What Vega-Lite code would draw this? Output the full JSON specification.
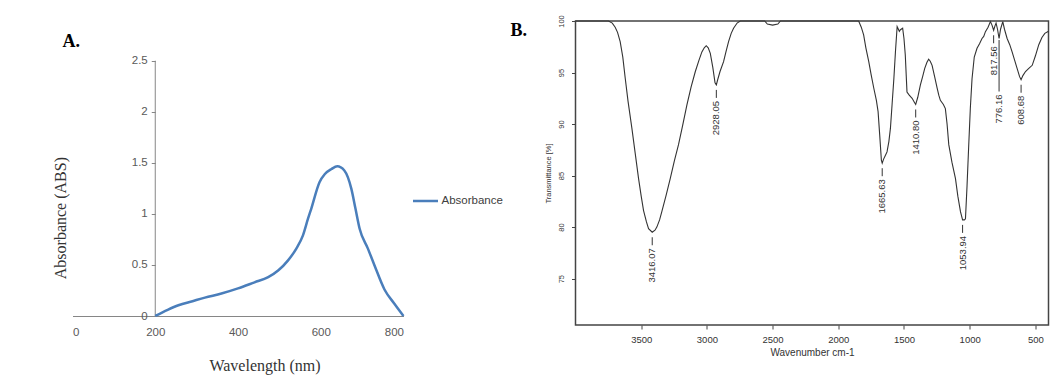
{
  "$schema": "https://vega.github.io/schema/vega-lite/v6.json",
  "padding": {"left": 51.5, "top": 13, "right": 4, "bottom": 4},
  "spacing": 172,
  "bounds": "flush",
  "background": "white",
  "config": {"view": {"stroke": null}, "font": "Liberation Sans"},
  "hconcat": [
    {
      "width": 331,
      "height": 295,
      "title": {"text": "A.", "anchor": "start", "frame": "group", "font": "Liberation Serif", "fontSize": 18, "fontWeight": "bold", "color": "#000000", "dx": -10, "dy": 29, "baseline": "alphabetic", "offset": -15},
      "layer": [
        {
          "data": {"values": [{}]},
          "mark": {"type": "rule", "color": "#868686", "strokeWidth": 1},
          "encoding": {
            "x": {"datum": 200, "type": "quantitative", "scale": {"domain": [0, 800], "nice": false, "zero": false}},
            "y": {"datum": 0, "type": "quantitative", "scale": {"domain": [0, 2.889], "nice": false}},
            "y2": {"datum": 2.5}
          }
        },
        {
          "data": {"values": [
            {"wavelength": 200, "absorbance": 0, "series": "Absorbance"},
            {"wavelength": 230, "absorbance": 0.06, "series": "Absorbance"},
            {"wavelength": 256, "absorbance": 0.105, "series": "Absorbance"},
            {"wavelength": 290, "absorbance": 0.145, "series": "Absorbance"},
            {"wavelength": 320, "absorbance": 0.18, "series": "Absorbance"},
            {"wavelength": 360, "absorbance": 0.22, "series": "Absorbance"},
            {"wavelength": 400, "absorbance": 0.27, "series": "Absorbance"},
            {"wavelength": 440, "absorbance": 0.33, "series": "Absorbance"},
            {"wavelength": 473, "absorbance": 0.38, "series": "Absorbance"},
            {"wavelength": 497, "absorbance": 0.445, "series": "Absorbance"},
            {"wavelength": 521, "absorbance": 0.545, "series": "Absorbance"},
            {"wavelength": 541, "absorbance": 0.66, "series": "Absorbance"},
            {"wavelength": 557, "absorbance": 0.79, "series": "Absorbance"},
            {"wavelength": 569, "absorbance": 0.95, "series": "Absorbance"},
            {"wavelength": 577, "absorbance": 1.05, "series": "Absorbance"},
            {"wavelength": 597, "absorbance": 1.31, "series": "Absorbance"},
            {"wavelength": 610, "absorbance": 1.39, "series": "Absorbance"},
            {"wavelength": 626, "absorbance": 1.44, "series": "Absorbance"},
            {"wavelength": 640, "absorbance": 1.466, "series": "Absorbance"},
            {"wavelength": 657, "absorbance": 1.425, "series": "Absorbance"},
            {"wavelength": 674, "absorbance": 1.245, "series": "Absorbance"},
            {"wavelength": 684, "absorbance": 1.05, "series": "Absorbance"},
            {"wavelength": 694, "absorbance": 0.855, "series": "Absorbance"},
            {"wavelength": 714, "absorbance": 0.66, "series": "Absorbance"},
            {"wavelength": 730, "absorbance": 0.495, "series": "Absorbance"},
            {"wavelength": 754, "absorbance": 0.26, "series": "Absorbance"},
            {"wavelength": 778, "absorbance": 0.12, "series": "Absorbance"},
            {"wavelength": 800, "absorbance": 0, "series": "Absorbance"}
          ]},
          "mark": {"type": "line", "interpolate": "monotone", "strokeWidth": 2.5},
          "encoding": {
            "x": {
              "field": "wavelength", "type": "quantitative",
              "axis": {"values": [0, 200, 400, 600, 800], "title": "Wavelength (nm)", "grid": false, "domainColor": "#868686", "ticks": false, "labelPadding": 10, "labelColor": "#595959", "labelFontSize": 11.5, "labelFont": "Liberation Sans", "titleFont": "Liberation Serif", "titleFontSize": 16, "titleFontWeight": "normal", "titleColor": "#333333", "titleX": 192, "titleY": 49, "titleBaseline": "middle"}
            },
            "y": {
              "field": "absorbance", "type": "quantitative",
              "axis": {"values": [0, 0.5, 1, 1.5, 2, 2.5], "format": "~g", "offset": -82.75, "domain": false, "grid": false, "tickSize": 4, "tickColor": "#868686", "labelPadding": 4, "labelColor": "#595959", "labelFontSize": 11.5, "labelFont": "Liberation Sans", "title": "Absorbance (ABS)", "titleFont": "Liberation Serif", "titleFontSize": 16, "titleFontWeight": "normal", "titleColor": "#333333", "titleX": -94.75, "titleY": 196.6, "titleBaseline": "middle"}
            },
            "color": {
              "field": "series", "type": "nominal",
              "scale": {"range": ["#4A7EBB"]},
              "legend": {"title": null, "orient": "none", "legendX": 339, "legendY": 166, "symbolType": "stroke", "symbolSize": 625, "symbolStrokeWidth": 2.5, "labelFontSize": 11.5, "labelColor": "#404040", "labelOffset": 2, "padding": 0, "symbolOffset": 0}
            }
          }
        }
      ]
    },
    {
      "width": 473,
      "height": 304,
      "view": {"stroke": "#444444", "strokeWidth": 1.5},
      "title": {"text": "B.", "anchor": "start", "frame": "group", "font": "Liberation Serif", "fontSize": 18, "fontWeight": "bold", "color": "#000000", "dx": -65, "dy": 19, "baseline": "alphabetic", "offset": -20},
      "layer": [
        {
          "data": {"values": [
            {"wavenumber": 4000, "transmittance": 100},
            {"wavenumber": 3800, "transmittance": 100},
            {"wavenumber": 3749, "transmittance": 100},
            {"wavenumber": 3720, "transmittance": 99.8},
            {"wavenumber": 3698, "transmittance": 99.4},
            {"wavenumber": 3680, "transmittance": 98.9},
            {"wavenumber": 3660, "transmittance": 98.0},
            {"wavenumber": 3640, "transmittance": 96.5},
            {"wavenumber": 3621, "transmittance": 94.4},
            {"wavenumber": 3600, "transmittance": 92.2},
            {"wavenumber": 3571, "transmittance": 89.6},
            {"wavenumber": 3545, "transmittance": 87.1},
            {"wavenumber": 3520, "transmittance": 84.7},
            {"wavenumber": 3500, "transmittance": 83.0},
            {"wavenumber": 3482, "transmittance": 81.6},
            {"wavenumber": 3460, "transmittance": 80.5},
            {"wavenumber": 3444, "transmittance": 79.85},
            {"wavenumber": 3416.07, "transmittance": 79.5},
            {"wavenumber": 3395, "transmittance": 79.7},
            {"wavenumber": 3381, "transmittance": 80.0},
            {"wavenumber": 3360, "transmittance": 80.7},
            {"wavenumber": 3343, "transmittance": 81.5},
            {"wavenumber": 3310, "transmittance": 83.1},
            {"wavenumber": 3279, "transmittance": 84.7},
            {"wavenumber": 3248, "transmittance": 86.4},
            {"wavenumber": 3216, "transmittance": 88.0},
            {"wavenumber": 3184, "transmittance": 89.9},
            {"wavenumber": 3152, "transmittance": 91.85},
            {"wavenumber": 3120, "transmittance": 93.6},
            {"wavenumber": 3088, "transmittance": 95.1},
            {"wavenumber": 3060, "transmittance": 96.2},
            {"wavenumber": 3038, "transmittance": 97.0},
            {"wavenumber": 3020, "transmittance": 97.4},
            {"wavenumber": 3005, "transmittance": 97.6},
            {"wavenumber": 2990, "transmittance": 97.4},
            {"wavenumber": 2974, "transmittance": 96.86},
            {"wavenumber": 2955, "transmittance": 95.5},
            {"wavenumber": 2938, "transmittance": 94.0},
            {"wavenumber": 2928.05, "transmittance": 93.8},
            {"wavenumber": 2918, "transmittance": 94.3},
            {"wavenumber": 2900, "transmittance": 95.1},
            {"wavenumber": 2873, "transmittance": 96.05},
            {"wavenumber": 2855, "transmittance": 97.0},
            {"wavenumber": 2835, "transmittance": 98.0},
            {"wavenumber": 2815, "transmittance": 98.8},
            {"wavenumber": 2797, "transmittance": 99.3},
            {"wavenumber": 2770, "transmittance": 99.8},
            {"wavenumber": 2746, "transmittance": 100},
            {"wavenumber": 2560, "transmittance": 100},
            {"wavenumber": 2540, "transmittance": 99.7},
            {"wavenumber": 2500, "transmittance": 99.6},
            {"wavenumber": 2460, "transmittance": 99.7},
            {"wavenumber": 2440, "transmittance": 100},
            {"wavenumber": 1845, "transmittance": 100},
            {"wavenumber": 1825, "transmittance": 99.4},
            {"wavenumber": 1807, "transmittance": 98.65},
            {"wavenumber": 1790, "transmittance": 97.4},
            {"wavenumber": 1768, "transmittance": 96.05},
            {"wavenumber": 1750, "transmittance": 94.8},
            {"wavenumber": 1730, "transmittance": 93.5},
            {"wavenumber": 1710, "transmittance": 92.3},
            {"wavenumber": 1697, "transmittance": 91.2},
            {"wavenumber": 1685, "transmittance": 89.0},
            {"wavenumber": 1672, "transmittance": 86.5},
            {"wavenumber": 1665.63, "transmittance": 86.2},
            {"wavenumber": 1655, "transmittance": 86.6},
            {"wavenumber": 1640, "transmittance": 87.0},
            {"wavenumber": 1629, "transmittance": 87.3},
            {"wavenumber": 1615, "transmittance": 88.3},
            {"wavenumber": 1603, "transmittance": 89.6},
            {"wavenumber": 1590, "transmittance": 92.0},
            {"wavenumber": 1577, "transmittance": 94.4},
            {"wavenumber": 1565, "transmittance": 97.0},
            {"wavenumber": 1552, "transmittance": 99.45},
            {"wavenumber": 1535, "transmittance": 99.0},
            {"wavenumber": 1527, "transmittance": 99.15},
            {"wavenumber": 1510, "transmittance": 99.3},
            {"wavenumber": 1500, "transmittance": 98.3},
            {"wavenumber": 1490, "transmittance": 96.7},
            {"wavenumber": 1477, "transmittance": 93.1},
            {"wavenumber": 1460, "transmittance": 92.8},
            {"wavenumber": 1438, "transmittance": 92.5},
            {"wavenumber": 1420, "transmittance": 92.1},
            {"wavenumber": 1410.8, "transmittance": 91.9},
            {"wavenumber": 1395, "transmittance": 92.6},
            {"wavenumber": 1375, "transmittance": 93.8},
            {"wavenumber": 1358, "transmittance": 94.6},
            {"wavenumber": 1342, "transmittance": 95.4},
            {"wavenumber": 1325, "transmittance": 96.0},
            {"wavenumber": 1312, "transmittance": 96.3},
            {"wavenumber": 1300, "transmittance": 96.1},
            {"wavenumber": 1286, "transmittance": 95.7},
            {"wavenumber": 1265, "transmittance": 94.5},
            {"wavenumber": 1248, "transmittance": 93.5},
            {"wavenumber": 1235, "transmittance": 92.8},
            {"wavenumber": 1223, "transmittance": 92.3},
            {"wavenumber": 1200, "transmittance": 91.9},
            {"wavenumber": 1185, "transmittance": 91.5},
            {"wavenumber": 1172, "transmittance": 90.0},
            {"wavenumber": 1159, "transmittance": 88.0},
            {"wavenumber": 1135, "transmittance": 86.3},
            {"wavenumber": 1108, "transmittance": 84.7},
            {"wavenumber": 1090, "transmittance": 83.0},
            {"wavenumber": 1070, "transmittance": 81.5},
            {"wavenumber": 1053.94, "transmittance": 80.7},
            {"wavenumber": 1040, "transmittance": 80.7},
            {"wavenumber": 1032, "transmittance": 80.8},
            {"wavenumber": 1020, "transmittance": 84.0},
            {"wavenumber": 1007, "transmittance": 88.0},
            {"wavenumber": 995, "transmittance": 91.5},
            {"wavenumber": 982, "transmittance": 94.4},
            {"wavenumber": 965, "transmittance": 96.5},
            {"wavenumber": 944, "transmittance": 97.35},
            {"wavenumber": 925, "transmittance": 97.8},
            {"wavenumber": 906, "transmittance": 98.3},
            {"wavenumber": 893, "transmittance": 98.5},
            {"wavenumber": 880, "transmittance": 98.97},
            {"wavenumber": 860, "transmittance": 99.4},
            {"wavenumber": 842, "transmittance": 99.94},
            {"wavenumber": 830, "transmittance": 99.6},
            {"wavenumber": 817.56, "transmittance": 99.1},
            {"wavenumber": 808, "transmittance": 99.5},
            {"wavenumber": 799, "transmittance": 99.8},
            {"wavenumber": 788, "transmittance": 99.2},
            {"wavenumber": 776.16, "transmittance": 98.3},
            {"wavenumber": 765, "transmittance": 99.2},
            {"wavenumber": 748, "transmittance": 99.94},
            {"wavenumber": 735, "transmittance": 99.2},
            {"wavenumber": 715, "transmittance": 98.3},
            {"wavenumber": 695, "transmittance": 97.7},
            {"wavenumber": 677, "transmittance": 97.0},
            {"wavenumber": 658, "transmittance": 96.2},
            {"wavenumber": 639, "transmittance": 95.4},
            {"wavenumber": 620, "transmittance": 94.6},
            {"wavenumber": 608.68, "transmittance": 94.3},
            {"wavenumber": 595, "transmittance": 94.7},
            {"wavenumber": 575, "transmittance": 95.1},
            {"wavenumber": 550, "transmittance": 95.4},
            {"wavenumber": 524, "transmittance": 95.7},
            {"wavenumber": 500, "transmittance": 96.6},
            {"wavenumber": 474, "transmittance": 97.7},
            {"wavenumber": 450, "transmittance": 98.4},
            {"wavenumber": 428, "transmittance": 98.8},
            {"wavenumber": 400, "transmittance": 99.0}
          ]},
          "mark": {"type": "line", "color": "#333333", "strokeWidth": 1.1},
          "encoding": {
            "x": {
              "field": "wavenumber", "type": "quantitative",
              "scale": {"domain": [400, 4000], "reverse": true, "nice": false, "zero": false},
              "axis": {"values": [500, 1000, 1500, 2000, 2500, 3000, 3500], "format": "d", "title": "Wavenumber cm-1", "domain": false, "grid": false, "tickSize": 4, "tickColor": "#444444", "labelFontSize": 9.5, "labelColor": "#333333", "labelPadding": 5, "titleFontSize": 10, "titleFontWeight": "normal", "titleColor": "#333333", "titlePadding": 4}
            },
            "y": {
              "field": "transmittance", "type": "quantitative",
              "scale": {"domain": [70.5, 100], "nice": false, "zero": false},
              "axis": {"values": [75, 80, 85, 90, 95, 100], "format": "d", "title": "Transmittance [%]", "domain": false, "grid": false, "tickSize": 4, "tickColor": "#444444", "labelAngle": 270, "labelAlign": "center", "labelBaseline": "bottom", "labelPadding": 6, "labelFontSize": 7.5, "labelColor": "#333333", "titleFontSize": 7.5, "titleFontWeight": "normal", "titleColor": "#333333", "titlePadding": 5}
            }
          }
        },
        {
          "data": {"name": "peaks", "values": [
            {"wavenumber": 3416.07, "transmittance": 79.5, "label": "3416.07"},
            {"wavenumber": 2928.05, "transmittance": 93.8, "label": "2928.05"},
            {"wavenumber": 1665.63, "transmittance": 86.2, "label": "1665.63"},
            {"wavenumber": 1410.8, "transmittance": 91.9, "label": "1410.80"},
            {"wavenumber": 1053.94, "transmittance": 80.7, "label": "1053.94"},
            {"wavenumber": 817.56, "transmittance": 99.1, "label": "817.56"},
            {"wavenumber": 776.16, "transmittance": 98.3, "label": "776.16"},
            {"wavenumber": 608.68, "transmittance": 94.3, "label": "608.68"}
          ]},
          "layer": [
            {
              "transform": [{"filter": "datum.label !== '776.16'"}],
              "mark": {"type": "point", "shape": "M0,5L0,13", "size": 4, "filled": false, "color": "#333333", "strokeWidth": 1, "opacity": 1},
              "encoding": {"x": {"field": "wavenumber", "type": "quantitative"}, "y": {"field": "transmittance", "type": "quantitative"}}
            },
            {
              "transform": [{"filter": "datum.label !== '776.16'"}],
              "mark": {"type": "text", "angle": 270, "align": "right", "baseline": "middle", "yOffset": 16, "fontSize": 9.5, "color": "#333333"},
              "encoding": {"x": {"field": "wavenumber", "type": "quantitative"}, "y": {"field": "transmittance", "type": "quantitative"}, "text": {"field": "label"}}
            },
            {
              "transform": [{"filter": "datum.label === '776.16'"}],
              "mark": {"type": "point", "shape": "M0,1.5L0,53", "size": 4, "filled": false, "color": "#333333", "strokeWidth": 1, "opacity": 1},
              "encoding": {"x": {"field": "wavenumber", "type": "quantitative"}, "y": {"field": "transmittance", "type": "quantitative"}}
            },
            {
              "transform": [{"filter": "datum.label === '776.16'"}],
              "mark": {"type": "text", "angle": 270, "align": "right", "baseline": "middle", "yOffset": 56, "fontSize": 9.5, "color": "#333333"},
              "encoding": {"x": {"field": "wavenumber", "type": "quantitative"}, "y": {"field": "transmittance", "type": "quantitative"}, "text": {"field": "label"}}
            }
          ]
        }
      ]
    }
  ]
}
